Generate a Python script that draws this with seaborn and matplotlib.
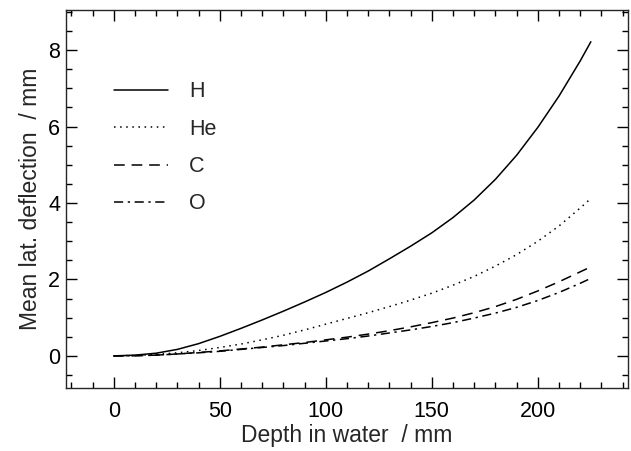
import seaborn as sns
import matplotlib.pyplot as plt
import matplotlib.ticker as mticker
import pandas as pd

depth = [0, 10, 20, 30, 40, 50, 60, 70, 80, 90, 100, 110, 120, 130, 140,
         150, 160, 170, 180, 190, 200, 210, 220, 225]
h_defl = [0, 0.02, 0.07, 0.17, 0.32, 0.51, 0.72, 0.94, 1.17, 1.41, 1.66, 1.93,
          2.22, 2.54, 2.87, 3.22, 3.62, 4.08, 4.62, 5.25, 5.98, 6.8, 7.72, 8.22]
he_defl = [0, 0.01, 0.04, 0.08, 0.14, 0.22, 0.31, 0.42, 0.54, 0.68, 0.83, 0.98,
           1.13, 1.29, 1.46, 1.64, 1.85, 2.08, 2.35, 2.65, 3.0, 3.4, 3.87, 4.12]
c_defl = [0, 0.005, 0.02, 0.05, 0.09, 0.13, 0.18, 0.23, 0.29, 0.35, 0.42, 0.49,
          0.57, 0.66, 0.76, 0.87, 0.99, 1.13, 1.29, 1.48, 1.70, 1.94, 2.2, 2.33]
o_defl = [0, 0.005, 0.02, 0.05, 0.08, 0.12, 0.17, 0.22, 0.27, 0.33, 0.39, 0.45,
          0.52, 0.6, 0.68, 0.77, 0.87, 0.99, 1.12, 1.27, 1.45, 1.66, 1.9, 2.03]
ions = ["H", "He", "C", "O"]

df = pd.concat([
    pd.DataFrame({"depth": depth, "defl": vals, "ion": name})
    for name, vals in zip(ions, [h_defl, he_defl, c_defl, o_defl])
])

sns.set_theme(style="ticks")
plt.rcParams["font.family"] = ["Liberation Sans", "DejaVu Sans"]
plt.rcParams["axes.linewidth"] = 1.0

fig = plt.figure(figsize=(6.31, 4.51), dpi=100)
ax = fig.add_axes([0.1046, 0.1397, 0.8906, 0.8381])

dashes = {"H": "", "He": (1, 3), "C": (7, 4.5), "O": (6, 3, 1.5, 3)}
sns.lineplot(data=df, x="depth", y="defl", style="ion", dashes=dashes,
             color="black", linewidth=1.1, ax=ax, sort=False)

ax.set_xlim(-22.5, 242.5)
ax.set_ylim(-0.84, 9.05)
ax.xaxis.set_major_locator(mticker.MultipleLocator(50))
ax.xaxis.set_minor_locator(mticker.MultipleLocator(10))
ax.yaxis.set_major_locator(mticker.MultipleLocator(2))
ax.yaxis.set_minor_locator(mticker.MultipleLocator(0.5))
ax.tick_params(which="both", direction="in", top=True, right=True,
               labelsize=15.5, colors="black", width=1.0)
ax.tick_params(which="major", length=8)
ax.tick_params(which="minor", length=4)
ax.tick_params(axis="x", which="major", pad=9.5)
ax.tick_params(axis="y", which="major", pad=4.3)

ax.set_xlabel("Depth in water  / mm", fontsize=16.5, labelpad=1)
ax.set_ylabel("Mean lat. deflection  / mm", fontsize=16.5, labelpad=4)

handles, labels = ax.get_legend_handles_labels()
ax.legend(handles, labels, loc="upper left", bbox_to_anchor=(0.07, 0.834),
          frameon=False, fontsize=15.5, handlelength=2.5, handletextpad=1.0,
          labelspacing=0.76, borderaxespad=0)

fig.savefig("out.png", dpi=100)
